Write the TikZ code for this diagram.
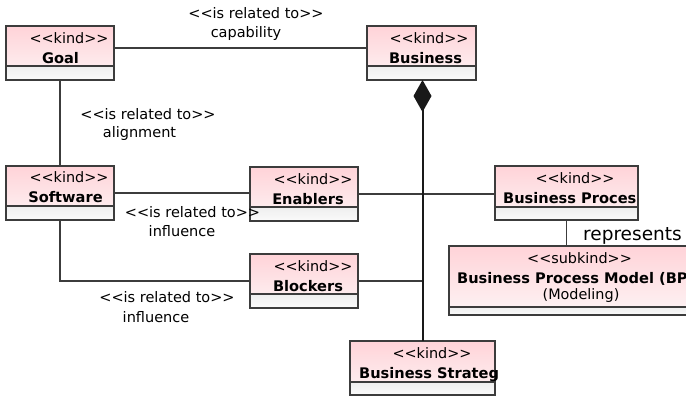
\documentclass[tikz,border=0pt]{standalone}
\usepackage{fontspec}
\setmainfont{DejaVu Sans}[Ligatures=TeXOff]
\usetikzlibrary{arrows.meta}

\definecolor{linegray}{HTML}{3C3C3C}
\definecolor{pinktop}{HTML}{FFD3D8}
\definecolor{pinkbot}{HTML}{FDF4F5}
\definecolor{comptop}{HTML}{EEEEEE}
\definecolor{compbot}{HTML}{FBFBFB}

\def\compht{14pt}

\tikzset{
  compheight/.code={\def\compht{#1}},
  classbox/.style={draw=linegray, line width=1.2pt, inner sep=0pt, outer sep=0pt,
    path picture={
      \shade[top color=pinktop, bottom color=pinkbot] (path picture bounding box.north west) rectangle ([yshift=\compht]path picture bounding box.south east);
      \shade[top color=comptop, bottom color=compbot] ([yshift=\compht]path picture bounding box.south west) rectangle (path picture bounding box.south east);
      \draw[linegray, line width=1.2pt] ([yshift=\compht]path picture bounding box.south west) -- ([yshift=\compht]path picture bounding box.south east);
    }},
  stereo/.style={anchor=base, inner sep=0pt, font=\fontsize{14.4}{17}\selectfont},
  classname/.style={anchor=base, inner sep=0pt, font=\fontsize{14.6}{17}\selectfont\bfseries},
  rellabel/.style={anchor=base, inner sep=0pt, font=\fontsize{14.5}{17}\selectfont},
  assoc/.style={draw=linegray, line width=1.2pt},
  composition/.style={draw=black!90, line width=2pt, -{Diamond[length=32pt, width=18pt]}},
}

\begin{document}
\begin{tikzpicture}[x=1pt, y=-1pt]
  \clip (0,0) rectangle (686,397);
  \fill[white] (0,0) rectangle (686,397);

  % class boxes
  \node[classbox, minimum width=108, minimum height=54] (goal) at (60,53) {};
  \node[classbox, minimum width=109, minimum height=54] (business) at (421.5,53) {};
  \node[classbox, minimum width=108, minimum height=54] (software) at (60,193) {};
  \node[classbox, minimum width=108, minimum height=54] (enablers) at (304,194) {};
  \node[classbox, minimum width=108, minimum height=54] (blockers) at (304,281) {};
  \node[classbox, compheight=13pt, minimum width=143, minimum height=54] (bp) at (566.5,193) {};
  \node[classbox, compheight=13pt, minimum width=145, minimum height=54] (strateg) at (422.5,368) {};
  \node[classbox, compheight=8pt, minimum width=258, minimum height=69] (bpm) at (578,280.5) {};

  % stereotypes and names
  \node[stereo] (goal-st) at (69,43) {<<kind>>};
  \node[classname] (goal-nm) at (60.5,63) {Goal};
  \node[stereo] (business-st) at (429,43) {<<kind>>};
  \node[classname] (business-nm) at (425.5,63) {Business};
  \node[stereo] (software-st) at (69,182) {<<kind>>};
  \node[classname] (software-nm) at (65.5,202) {Software};
  \node[stereo] (enablers-st) at (313,184) {<<kind>>};
  \node[classname] (enablers-nm) at (308,204) {Enablers};
  \node[stereo] (blockers-st) at (313,271) {<<kind>>};
  \node[classname] (blockers-nm) at (308,291) {Blockers};
  \node[stereo] (bp-st) at (575,183) {<<kind>>};
  \node[classname, anchor=base west] (bp-nm) at (503,203) {Business Proces};
  \node[stereo] (strateg-st) at (432,358) {<<kind>>};
  \node[classname, anchor=base west] (strateg-nm) at (359,378) {Business Strateg};
  \node[stereo] (bpm-st) at (579.5,263) {<<subkind>>};
  \node[classname, anchor=base west] (bpm-nm) at (457,283) {Business Process Model (BP};
  \node[stereo] (bpm-md) at (581,299) {(Modeling)};

  % connectors
  \coordinate (goal-r) at ([yshift=5pt]goal.east);
  \draw[assoc] (goal-r) -- (goal-r -| business.west);
  \draw[assoc] (goal.south) -- (software.north);
  \draw[assoc] (software.east) -- (software.east -| enablers.west);
  \draw[assoc] (software.south) |- (blockers.west);
  \draw[assoc] (enablers.east) -- (enablers.east -| bp.west);
  \draw[assoc] (blockers.east) -- (blockers.east -| strateg.north);
  \draw[composition] (strateg.north) -- (strateg.north |- business.south);
  \draw[assoc] (bp.south) -- (bp.south |- bpm.north);

  % relation labels
  \node[rellabel] (cap-st) at (256,18.5) {<<is related to>>};
  \node[rellabel] (cap-nm) at (246,37.5) {capability};
  \node[rellabel] (aln-st) at (148,119.5) {<<is related to>>};
  \node[rellabel] (aln-nm) at (139.5,137.5) {alignment};
  \node[rellabel] (inf1-st) at (192.5,217.5) {<<is related to>>};
  \node[rellabel] (inf1-nm) at (182,236.5) {influence};
  \node[rellabel] (inf2-st) at (167,302.5) {<<is related to>>};
  \node[rellabel] (inf2-nm) at (156,322.5) {influence};
  \node[anchor=base west, inner sep=0pt, font=\fontsize{18.5}{22}\selectfont] (rep) at (583,240) {represents};
\end{tikzpicture}
\end{document}
